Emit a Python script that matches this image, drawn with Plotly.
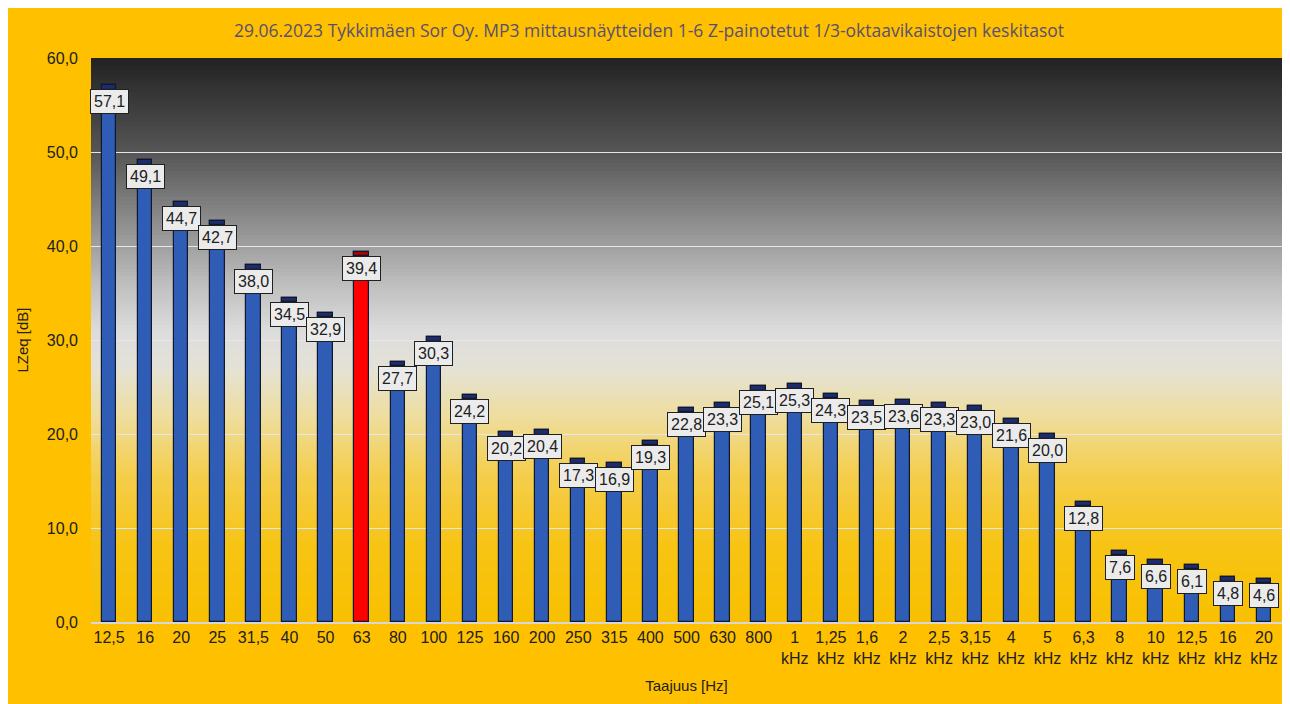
import plotly.graph_objects as go

categories = ["12,5", "16", "20", "25", "31,5", "40", "50", "63", "80", "100", "125", "160",
              "200", "250", "315", "400", "500", "630", "800",
              "1<br>kHz", "1,25<br>kHz", "1,6<br>kHz", "2<br>kHz", "2,5<br>kHz", "3,15<br>kHz",
              "4<br>kHz", "5<br>kHz", "6,3<br>kHz", "8<br>kHz", "10<br>kHz", "12,5<br>kHz",
              "16<br>kHz", "20<br>kHz"]
values = [57.1, 49.1, 44.7, 42.7, 38.0, 34.5, 32.9, 39.4, 27.7, 30.3, 24.2, 20.2, 20.4,
          17.3, 16.9, 19.3, 22.8, 23.3, 25.1, 25.3, 24.3, 23.5, 23.6, 23.3, 23.0, 21.6,
          20.0, 12.8, 7.6, 6.6, 6.1, 4.8, 4.6]
highlight = "63"

x_idx = list(range(len(categories)))
colors = ["#FF0000" if c == highlight else "#2F5DB6" for c in categories]
cap_colors = ["#B00000" if c == highlight else "#1C2C6C" for c in categories]
cap_h = 0.5

fig = go.Figure()
fig.add_trace(go.Bar(x=x_idx, y=values, width=0.4, marker=dict(color=colors, line=dict(color="#101830", width=1.2)),
                     hoverinfo="y"))
fig.add_trace(go.Bar(x=x_idx, y=[cap_h] * len(values), base=[v - cap_h for v in values], width=0.4,
                     marker=dict(color=cap_colors, line=dict(color="#101830", width=1.2)), hoverinfo="skip"))

# gradient background
stops = [(0, (248, 192, 0)), (8, (247, 196, 20)), (16, (244, 206, 80)), (22, (238, 222, 160)),
         (27, (228, 226, 214)), (31, (220, 220, 220)), (36, (190, 190, 190)), (42, (145, 145, 145)),
         (50, (86, 86, 86)), (60, (34, 34, 34))]

def col_at(v):
    for (a, ca), (b, cb) in zip(stops[:-1], stops[1:]):
        if a <= v <= b:
            t = (v - a) / (b - a)
            return tuple(int(round(ca[i] + (cb[i] - ca[i]) * t)) for i in range(3))
    return stops[-1][1]

shapes = []
n = 150
for i in range(n):
    y0 = 60 * i / n
    r, g, b = col_at(y0 + 30 / n)
    shapes.append(dict(type="rect", xref="x domain", yref="y", x0=0, x1=1, y0=y0, y1=60,
                       fillcolor=f"rgb({r},{g},{b})", line=dict(width=0), layer="below"))

annotations = []
for i, v in enumerate(values):
    annotations.append(dict(x=i, y=v, xref="x", yref="y", text=f"{v:.1f}".replace(".", ","),
                            showarrow=False, yanchor="top", yshift=-4,
                            font=dict(family="Liberation Sans, Arial", size=16, color="#202020"),
                            bgcolor="#EBEBEB", bordercolor="#202020", borderwidth=1, borderpad=3))

fig.update_layout(
    width=1282, height=696,
    margin=dict(l=83, r=8, t=50, b=82),
    paper_bgcolor="#FFC000",
    plot_bgcolor="rgba(0,0,0,0)",
    separators=", ",
    barmode="overlay",
    showlegend=False,
    bargap=0,
    title=dict(text="29.06.2023 Tykkimäen Sor Oy. MP3 mittausnäytteiden 1-6 Z-painotetut 1/3-oktaavikaistojen keskitasot",
               x=0.5, xref="container", xanchor="center", y=0.967, yanchor="middle",
               font=dict(family="Open Sans, Liberation Sans", size=17.5, color="#5A5070")),
    xaxis=dict(tickmode="array", tickvals=x_idx, ticktext=categories, range=[-0.5, len(categories) - 0.5],
               showgrid=False, showline=True, linecolor="#D8D8D8", linewidth=2, ticks="",
               tickfont=dict(family="Liberation Sans, Arial", size=16, color="#202020"),
               title=dict(text="Taajuus [Hz]", standoff=14,
                          font=dict(family="Liberation Sans, Arial", size=15, color="#202020"))),
    yaxis=dict(range=[0, 60], dtick=10, tickformat=".1f", showgrid=True, gridcolor="#E6E6E6", gridwidth=1.2,
               zeroline=False, ticks="", ticklabelstandoff=12,
               tickfont=dict(family="Liberation Sans, Arial", size=16, color="#202020"),
               title=dict(text="LZeq [dB]", standoff=14,
                          font=dict(family="Liberation Sans, Arial", size=15, color="#202020"))),
    shapes=shapes,
    annotations=annotations,
)

fig.write_html("out.html")
